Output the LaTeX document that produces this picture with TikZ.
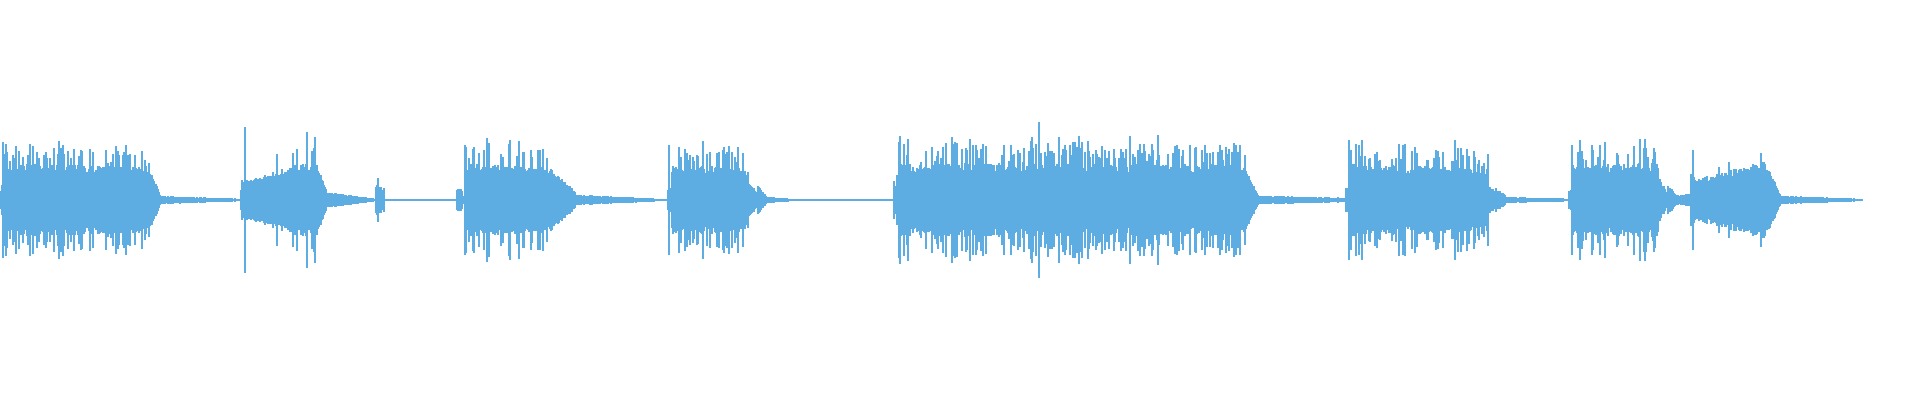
\documentclass[tikz,border=0pt]{standalone}
\definecolor{wave}{HTML}{5DADE2}
\begin{document}
\begin{tikzpicture}[x=0.25pt,y=0.25pt,wl/.style={draw=wave,line width=0.3pt}]
\useasboundingbox (0,0) rectangle (1920,400);
\pgfmathsetseed{42}
\foreach \xa/\xb/\aa/\ab/\sp in {
0/4/2/30/0.3, 4/150/36/34/0.3, 150/160/30/6/0, 160/240/4/1/0,
241/245/10/22/0.3, 245/315/20/40/0.1, 315/326/40/12/0, 326/375/8/1/0, 376/384/16/8/0.3, 384/455/0.6/0.6/0,
457/462/12/10/0, 462/466/4/4/0, 466/552/36/32/0.3, 552/575/32/8/0, 575/660/5/1/0, 660/667/0.6/0.6/0,
668/672/12/12/0, 672/748/36/32/0.3, 748/758/20/6/0, 758/766/15/5/0, 766/790/3/1/0, 790/893/0.6/0.6/0,
894/900/12/20/0.3, 900/1245/36/36/0.4, 1245/1258/32/6/0, 1258/1345/4/2/0,
1346/1350/12/12/0, 1350/1488/36/32/0.3, 1488/1496/14/10/0, 1496/1505/12/5/0, 1505/1568/3/1/0,
1569/1572/10/10/0, 1572/1658/34/38/0.3, 1658/1668/25/6/0, 1668/1676/16/6/0, 1676/1690/4/6/0,
1691/1695/30/20/0.3, 1695/1765/20/40/0.05, 1765/1780/40/6/0, 1780/1862/4/1/0}{
  \foreach \x in {\xa,...,\xb}{
    \pgfmathsetmacro\a{\aa+(\ab-\aa)*(\x-\xa)/max(1,\xb-\xa)}
    \pgfmathsetmacro\h{\a*(0.75+0.25*rnd)*(rnd<\sp ? 1.25+0.6*rnd : 1)+0.4}
    \draw[wl] (\x,200-\h) -- (\x,200+\h);
  }
}
% onset spikes
\foreach \x/\h in {3/58, 245/73, 465/55, 669/55, 899/58, 1039/78, 1349/60, 1572/55, 1693/50}{
  \draw[wl] (\x,200-\h) -- (\x,200+\h);
}
\end{tikzpicture}
\end{document}
